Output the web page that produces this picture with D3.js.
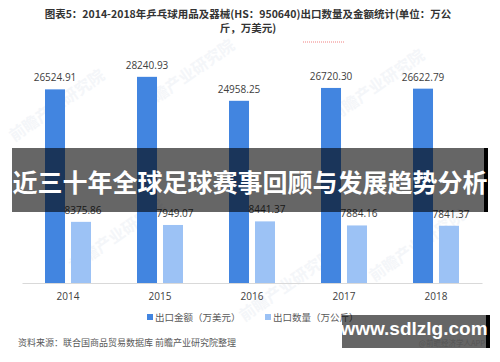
<!DOCTYPE html>
<html>
<head>
<meta charset="utf-8">
<script src="https://cdn.jsdelivr.net/npm/d3@7"></script>
<style>
  html, body { margin: 0; padding: 0; background: #fff; }
  svg { display: block; }
</style>
</head>
<body>
<div id="chart"></div>
<script>
var years = ["2014", "2015", "2016", "2017", "2018"];
var exportAmount = [26524.91, 28240.93, 24958.25, 26720.30, 26622.79];
var exportQty = [8375.86, 7949.07, 8441.37, 7884.16, 7841.37];
var seriesNames = ["出口金额（万美元）", "出口数量（万公斤）"];
var seriesColors = ["#4285e0", "#9cc2f5"];

var width = 500, height = 362;
var cjk = "'Noto Sans CJK SC', 'Noto Sans', sans-serif";

var svg = d3.select("#chart").append("svg")
    .attr("width", width)
    .attr("height", height);

// title
var title = svg.append("text")
    .attr("text-anchor", "middle")
    .attr("fill", "#333")
    .attr("font-family", cjk)
    .attr("font-weight", "bold")
    .attr("font-size", "10.5px");
title.append("tspan").attr("x", 248).attr("y", 18)
    .text("图表5：2014-2018年乒乓球用品及器械(HS：950640)出口数量及金额统计(单位：万公");
title.append("tspan").attr("x", 248).attr("y", 32)
    .text("斤，万美元)");

svg.append("line")
    .attr("x1", 303).attr("x2", 345)
    .attr("y1", 42).attr("y2", 42)
    .attr("stroke", "#f08080")
    .attr("stroke-dasharray", "1,1");

// faint watermarks
var wm = [[60, 110], [190, 80], [290, 290], [420, 250], [120, 240], [380, 90]];
svg.selectAll(".wm").data(wm).enter().append("text")
    .attr("class", "wm")
    .attr("transform", d => "translate(" + d[0] + "," + d[1] + ") rotate(-35)")
    .attr("text-anchor", "middle")
    .attr("fill", "#f4f6f9")
    .attr("font-family", cjk)
    .attr("font-weight", "bold")
    .attr("font-size", "16px")
    .text("前瞻产业研究院");

var x = d3.scaleBand().domain(years).range([22, 482]);
var xInner = d3.scaleBand().domain([0, 1])
    .range([0, x.bandwidth()])
    .paddingInner(0.23)
    .paddingOuter(0.885);
var y = d3.scaleLinear().domain([0, 30000]).range([283, 64]);

var rows = years.map(function(yr, i) {
    return { year: yr, vals: [exportAmount[i], exportQty[i]] };
});

var groups = svg.selectAll(".yr").data(rows).enter().append("g")
    .attr("class", "yr")
    .attr("transform", d => "translate(" + x(d.year) + ",0)");

var cells = groups.selectAll(".bar")
    .data(d => d.vals.map((v, k) => ({ k: k, v: v })))
    .enter();

cells.append("rect")
    .attr("class", "bar")
    .attr("x", d => xInner(d.k))
    .attr("width", xInner.bandwidth())
    .attr("y", d => y(d.v))
    .attr("height", d => y(0) - y(d.v))
    .attr("fill", d => seriesColors[d.k]);

cells.append("text")
    .attr("x", d => xInner(d.k) + xInner.bandwidth() / 2 + (d.k === 1 ? 2 : 0))
    .attr("y", d => y(d.v) - 8)
    .attr("text-anchor", "middle")
    .attr("fill", "#404040")
    .attr("font-family", "'Open Sans', sans-serif")
    .attr("font-size", "10px")
    .text(d => d.v.toFixed(2));

// axis
var axis = svg.append("g")
    .attr("transform", "translate(0," + y(0) + ")")
    .call(d3.axisBottom(x).tickSize(0).tickPadding(10));
axis.select(".domain").attr("stroke", "#d9d9d9");
axis.selectAll("text")
    .attr("fill", "#404040")
    .attr("font-family", "'Open Sans', sans-serif")
    .attr("font-size", "10px");

// legend
var legX = [147, 265];
var leg = svg.selectAll(".leg").data(seriesNames).enter().append("g")
    .attr("class", "leg")
    .attr("transform", (d, i) => "translate(" + legX[i] + ",317)");
leg.append("rect")
    .attr("x", 0).attr("y", -3)
    .attr("width", 6).attr("height", 6)
    .attr("fill", (d, i) => seriesColors[i]);
leg.append("text")
    .attr("x", 8).attr("y", 3.5)
    .attr("fill", "#595959")
    .attr("font-family", cjk)
    .attr("font-size", "9.5px")
    .text(d => d);

svg.append("text")
    .attr("x", 18).attr("y", 346)
    .attr("fill", "#595959")
    .attr("font-family", cjk)
    .attr("font-size", "9px")
    .text("资料来源：联合国商品贸易数据库 前瞻产业研究院整理");

// overlay banner
svg.append("rect")
    .attr("x", 12).attr("y", 148)
    .attr("width", 476).attr("height", 64)
    .attr("fill", "rgba(0,0,0,0.6)");
svg.append("rect")
    .attr("x", 484).attr("y", 148)
    .attr("width", 4).attr("height", 64)
    .attr("fill", "#000");
svg.append("text")
    .attr("x", 250).attr("y", 192)
    .attr("text-anchor", "middle")
    .attr("fill", "#fff")
    .attr("font-family", cjk)
    .attr("font-weight", "bold")
    .attr("font-size", "25px")
    .text("近三十年全球足球赛事回顾与发展趋势分析");

// bottom-right stamp
svg.append("rect")
    .attr("x", 342).attr("y", 315)
    .attr("width", 148).attr("height", 33)
    .attr("fill", "rgba(0,0,0,0.6)");
svg.append("rect")
    .attr("x", 486).attr("y", 315)
    .attr("width", 4).attr("height", 33)
    .attr("fill", "#000");
svg.append("text")
    .attr("x", 414).attr("y", 335)
    .attr("text-anchor", "middle")
    .attr("fill", "#fff")
    .attr("font-family", "'Liberation Sans', Arial, sans-serif")
    .attr("font-weight", "bold")
    .attr("font-size", "19px")
    .text("www.sdlzlg.com");
svg.append("text")
    .attr("x", 485).attr("y", 346)
    .attr("text-anchor", "end")
    .attr("fill", "#555")
    .attr("font-family", cjk)
    .attr("font-size", "7.5px")
    .text("@前瞻经济学人APP");
</script>
</body>
</html>
